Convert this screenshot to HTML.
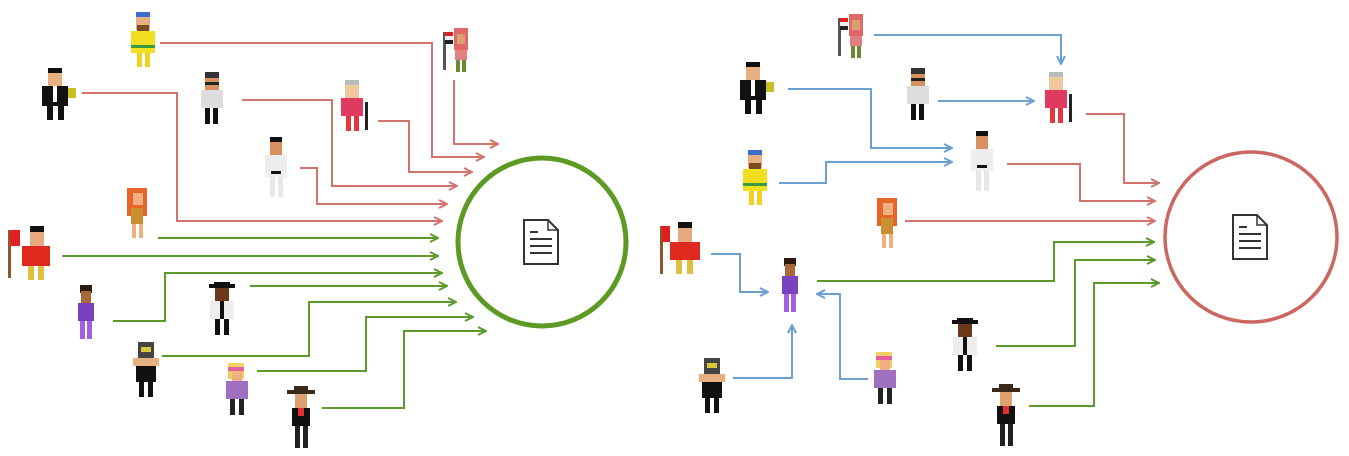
<!DOCTYPE html>
<html><head><meta charset="utf-8"><style>
html,body{margin:0;padding:0;background:#fff;width:1349px;height:456px;overflow:hidden}
svg{display:block}
</style></head><body>
<svg width="1349" height="456" viewBox="0 0 1349 456" xmlns="http://www.w3.org/2000/svg">
<defs>
<marker id="ar" viewBox="0 0 10 10" refX="9" refY="5" markerWidth="5" markerHeight="5" orient="auto"><path d="M1,1 L9,5 L1,9" fill="none" stroke="#d2746e" stroke-width="2"/></marker>
<marker id="ag" viewBox="0 0 10 10" refX="9" refY="5" markerWidth="5" markerHeight="5" orient="auto"><path d="M1,1 L9,5 L1,9" fill="none" stroke="#5c9a2e" stroke-width="2"/></marker>
<marker id="ab" viewBox="0 0 10 10" refX="9" refY="5" markerWidth="5" markerHeight="5" orient="auto"><path d="M1,1 L9,5 L1,9" fill="none" stroke="#6c9fd2" stroke-width="2"/></marker>
<g id="doc"><path d="M0,0 H24 L34,10 V44 H0 Z" fill="#fff" stroke="#333" stroke-width="2"/><path d="M24,0 V10 H34" fill="none" stroke="#333" stroke-width="1.5"/><path d="M6,12 H14 M6,19 H28 M6,26 H28 M6,33 H28" stroke="#333" stroke-width="2"/></g>
</defs>

<!-- LEFT -->
<g fill="none" stroke="#d2746e" stroke-width="2">
<polyline points="160,43 432,43 432,157 484,157" marker-end="url(#ar)"/>
<polyline points="454,80 454,144 498,144" marker-end="url(#ar)"/>
<polyline points="378,121 409,121 409,172 472,172" marker-end="url(#ar)"/>
<polyline points="242,100 332,100 332,186 457,186" marker-end="url(#ar)"/>
<polyline points="300,168 317,168 317,204 447,204" marker-end="url(#ar)"/>
<polyline points="82,93 177,93 177,221 442,221" marker-end="url(#ar)"/>
</g>
<g fill="none" stroke="#5c9a2e" stroke-width="2">
<polyline points="158,238 438,238" marker-end="url(#ag)"/>
<polyline points="62,256 438,256" marker-end="url(#ag)"/>
<polyline points="113,321 165,321 165,273 442,273" marker-end="url(#ag)"/>
<polyline points="250,286 447,286" marker-end="url(#ag)"/>
<polyline points="162,356 309,356 309,302 456,302" marker-end="url(#ag)"/>
<polyline points="257,371 366,371 366,317 473,317" marker-end="url(#ag)"/>
<polyline points="322,408 404,408 404,331 486,331" marker-end="url(#ag)"/>
</g>
<ellipse cx="542" cy="242" rx="84" ry="84" fill="none" stroke="#5c9a24" stroke-width="5"/>
<use href="#doc" x="524" y="220"/>

<!-- RIGHT -->
<g fill="none" stroke="#6c9fd2" stroke-width="2">
<polyline points="874,35 1061,35 1061,64" marker-end="url(#ab)"/>
<polyline points="938,101 1034,101" marker-end="url(#ab)"/>
<polyline points="788,89 871,89 871,148 952,148" marker-end="url(#ab)"/>
<polyline points="779,183 826,183 826,162 952,162" marker-end="url(#ab)"/>
<polyline points="711,254 740,254 740,292 768,292" marker-end="url(#ab)"/>
<polyline points="733,378 792,378 792,325" marker-end="url(#ab)"/>
<polyline points="868,379 840,379 840,294 817,294" marker-end="url(#ab)"/>
</g>
<g fill="none" stroke="#d2746e" stroke-width="2">
<polyline points="1086,114 1124,114 1124,183 1159,183" marker-end="url(#ar)"/>
<polyline points="1007,164 1080,164 1080,201 1155,201" marker-end="url(#ar)"/>
<polyline points="905,221 1155,221" marker-end="url(#ar)"/>
</g>
<g fill="none" stroke="#5c9a2e" stroke-width="2">
<polyline points="817,281 1054,281 1054,242 1154,242" marker-end="url(#ag)"/>
<polyline points="996,346 1075,346 1075,260 1155,260" marker-end="url(#ag)"/>
<polyline points="1029,406 1094,406 1094,283 1159,283" marker-end="url(#ag)"/>
</g>
<ellipse cx="1251" cy="237" rx="86" ry="85" fill="none" stroke="#cc6660" stroke-width="3.5"/>
<use href="#doc" x="1233" y="215"/>

<!-- characters: generic pixel figures -->
<g id="figs">
<!-- template: hair, head, body, arms, legs -->
<!-- yellow guy L -->
<g transform="translate(128,12)"><rect x="8" y="0" width="14" height="6" fill="#3a6fd0"/><rect x="8" y="5" width="14" height="13" fill="#e8b080"/><rect x="9" y="13" width="12" height="6" fill="#7a4a20"/><rect x="3" y="19" width="24" height="22" fill="#f2e020"/><rect x="3" y="33" width="24" height="3" fill="#3a9a40"/><rect x="9" y="41" width="5" height="14" fill="#f0d020"/><rect x="17" y="41" width="5" height="14" fill="#f0d020"/></g>
<!-- suit L -->
<g transform="translate(38,68)"><rect x="10" y="0" width="14" height="6" fill="#111"/><rect x="10" y="5" width="14" height="13" fill="#e8b080"/><rect x="4" y="18" width="26" height="20" fill="#111"/><rect x="15" y="18" width="4" height="16" fill="#fff"/><rect x="30" y="20" width="8" height="10" fill="#c8c020"/><rect x="9" y="38" width="6" height="14" fill="#111"/><rect x="20" y="38" width="6" height="14" fill="#111"/></g>
<!-- headphone L -->
<g transform="translate(196,72)"><rect x="9" y="0" width="14" height="6" fill="#333"/><rect x="9" y="6" width="14" height="12" fill="#d89060"/><rect x="9" y="10" width="14" height="3" fill="#222"/><rect x="5" y="18" width="22" height="18" fill="#ddd"/><rect x="9" y="36" width="5" height="16" fill="#111"/><rect x="17" y="36" width="5" height="16" fill="#111"/></g>
<!-- old man L -->
<g transform="translate(336,80)"><rect x="9" y="0" width="14" height="6" fill="#bbb"/><rect x="9" y="5" width="14" height="13" fill="#f0c8a0"/><rect x="5" y="18" width="22" height="18" fill="#e03a60"/><rect x="10" y="36" width="5" height="15" fill="#e03a40"/><rect x="18" y="36" width="5" height="15" fill="#e03a40"/><rect x="29" y="22" width="3" height="28" fill="#222"/></g>
<!-- egypt girl L -->
<g transform="translate(443,28)"><rect x="0" y="4" width="3" height="38" fill="#555"/><rect x="2" y="4" width="8" height="4" fill="#d22"/><rect x="2" y="8" width="8" height="4" fill="#eee"/><rect x="2" y="12" width="8" height="4" fill="#222"/><rect x="11" y="0" width="14" height="22" fill="#e06868"/><rect x="14" y="6" width="8" height="10" fill="#d8a070"/><rect x="12" y="22" width="12" height="10" fill="#e08080"/><rect x="13" y="32" width="4" height="12" fill="#6a8a30"/><rect x="19" y="32" width="4" height="12" fill="#6a8a30"/></g>
<!-- karate L -->
<g transform="translate(262,137)"><rect x="8" y="0" width="12" height="5" fill="#111"/><rect x="8" y="5" width="12" height="13" fill="#d89060"/><rect x="3" y="18" width="22" height="22" fill="#eee"/><rect x="9" y="34" width="10" height="3" fill="#111"/><rect x="8" y="40" width="5" height="20" fill="#e8e8e8"/><rect x="16" y="40" width="5" height="20" fill="#e8e8e8"/></g>
<!-- cavewoman L -->
<g transform="translate(125,188)"><rect x="2" y="0" width="20" height="28" fill="#e8652a"/><rect x="8" y="5" width="10" height="12" fill="#f0b080"/><rect x="6" y="20" width="12" height="16" fill="#c89030"/><rect x="7" y="36" width="4" height="14" fill="#f0b080"/><rect x="14" y="36" width="4" height="14" fill="#f0b080"/></g>
<!-- chinese L -->
<g transform="translate(8,226)"><rect x="0" y="4" width="3" height="48" fill="#8a5a2a"/><rect x="2" y="4" width="10" height="16" fill="#e02020"/><rect x="22" y="0" width="14" height="6" fill="#111"/><rect x="22" y="6" width="14" height="14" fill="#e8a880"/><rect x="14" y="20" width="28" height="20" fill="#e02a20"/><rect x="20" y="40" width="6" height="14" fill="#e0c040"/><rect x="30" y="40" width="6" height="14" fill="#e0c040"/></g>
<!-- purple L -->
<g transform="translate(72,285)"><rect x="8" y="0" width="12" height="8" fill="#2a1a10"/><rect x="9" y="6" width="10" height="12" fill="#a86838"/><rect x="6" y="18" width="16" height="18" fill="#7a40c0"/><rect x="8" y="36" width="5" height="18" fill="#a060e0"/><rect x="15" y="36" width="5" height="18" fill="#a060e0"/></g>
<!-- black hat L -->
<g transform="translate(205,282)"><rect x="4" y="2" width="26" height="4" fill="#111"/><rect x="9" y="0" width="16" height="4" fill="#111"/><rect x="10" y="6" width="14" height="13" fill="#6a3a1a"/><rect x="5" y="19" width="24" height="18" fill="#eee"/><rect x="15" y="19" width="4" height="18" fill="#111"/><rect x="10" y="37" width="5" height="16" fill="#111"/><rect x="19" y="37" width="5" height="16" fill="#111"/></g>
<!-- mask L -->
<g transform="translate(128,342)"><rect x="10" y="0" width="16" height="16" fill="#444"/><rect x="13" y="5" width="10" height="5" fill="#d8c840"/><rect x="5" y="16" width="26" height="8" fill="#e8b080"/><rect x="8" y="24" width="20" height="16" fill="#111"/><rect x="11" y="40" width="5" height="15" fill="#111"/><rect x="20" y="40" width="5" height="15" fill="#111"/></g>
<!-- blonde L -->
<g transform="translate(220,363)"><rect x="8" y="0" width="16" height="16" fill="#f0d060"/><rect x="8" y="4" width="16" height="4" fill="#e060a0"/><rect x="12" y="8" width="10" height="10" fill="#f0b080"/><rect x="6" y="18" width="22" height="18" fill="#a070c0"/><rect x="10" y="36" width="5" height="16" fill="#222"/><rect x="19" y="36" width="5" height="16" fill="#222"/></g>
<!-- cowboy L -->
<g transform="translate(285,386)"><rect x="2" y="4" width="28" height="4" fill="#3a2a1a"/><rect x="9" y="0" width="14" height="5" fill="#3a2a1a"/><rect x="10" y="8" width="12" height="14" fill="#e0a070"/><rect x="7" y="22" width="18" height="18" fill="#111"/><rect x="13" y="22" width="6" height="8" fill="#e03030"/><rect x="10" y="40" width="5" height="22" fill="#222"/><rect x="18" y="40" width="5" height="22" fill="#222"/></g>

<!-- RIGHT characters -->
<g transform="translate(838,14)"><rect x="0" y="4" width="3" height="38" fill="#555"/><rect x="2" y="4" width="8" height="4" fill="#d22"/><rect x="2" y="8" width="8" height="4" fill="#eee"/><rect x="2" y="12" width="8" height="4" fill="#222"/><rect x="11" y="0" width="14" height="22" fill="#e06868"/><rect x="14" y="6" width="8" height="10" fill="#d8a070"/><rect x="12" y="22" width="12" height="10" fill="#e08080"/><rect x="13" y="32" width="4" height="12" fill="#6a8a30"/><rect x="19" y="32" width="4" height="12" fill="#6a8a30"/></g>
<g transform="translate(736,62)"><rect x="10" y="0" width="14" height="6" fill="#111"/><rect x="10" y="5" width="14" height="13" fill="#e8b080"/><rect x="4" y="18" width="26" height="20" fill="#111"/><rect x="15" y="18" width="4" height="16" fill="#fff"/><rect x="30" y="20" width="8" height="10" fill="#c8c020"/><rect x="9" y="38" width="6" height="14" fill="#111"/><rect x="20" y="38" width="6" height="14" fill="#111"/></g>
<g transform="translate(902,68)"><rect x="9" y="0" width="14" height="6" fill="#333"/><rect x="9" y="6" width="14" height="12" fill="#d89060"/><rect x="9" y="10" width="14" height="3" fill="#222"/><rect x="5" y="18" width="22" height="18" fill="#ddd"/><rect x="9" y="36" width="5" height="16" fill="#111"/><rect x="17" y="36" width="5" height="16" fill="#111"/></g>
<g transform="translate(1040,72)"><rect x="9" y="0" width="14" height="6" fill="#bbb"/><rect x="9" y="5" width="14" height="13" fill="#f0c8a0"/><rect x="5" y="18" width="22" height="18" fill="#e03a60"/><rect x="10" y="36" width="5" height="15" fill="#e03a40"/><rect x="18" y="36" width="5" height="15" fill="#e03a40"/><rect x="29" y="22" width="3" height="28" fill="#222"/></g>
<g transform="translate(740,150)"><rect x="8" y="0" width="14" height="6" fill="#3a6fd0"/><rect x="8" y="5" width="14" height="13" fill="#e8b080"/><rect x="9" y="13" width="12" height="6" fill="#7a4a20"/><rect x="3" y="19" width="24" height="22" fill="#f2e020"/><rect x="3" y="33" width="24" height="3" fill="#3a9a40"/><rect x="9" y="41" width="5" height="14" fill="#f0d020"/><rect x="17" y="41" width="5" height="14" fill="#f0d020"/></g>
<g transform="translate(968,131)"><rect x="8" y="0" width="12" height="5" fill="#111"/><rect x="8" y="5" width="12" height="13" fill="#d89060"/><rect x="3" y="18" width="22" height="22" fill="#eee"/><rect x="9" y="34" width="10" height="3" fill="#111"/><rect x="8" y="40" width="5" height="20" fill="#e8e8e8"/><rect x="16" y="40" width="5" height="20" fill="#e8e8e8"/></g>
<g transform="translate(875,198)"><rect x="2" y="0" width="20" height="28" fill="#e8652a"/><rect x="8" y="5" width="10" height="12" fill="#f0b080"/><rect x="6" y="20" width="12" height="16" fill="#c89030"/><rect x="7" y="36" width="4" height="14" fill="#f0b080"/><rect x="14" y="36" width="4" height="14" fill="#f0b080"/></g>
<g transform="translate(660,222)"><rect x="0" y="4" width="3" height="48" fill="#8a5a2a"/><rect x="2" y="4" width="8" height="16" fill="#e02020"/><rect x="18" y="0" width="14" height="6" fill="#111"/><rect x="18" y="6" width="14" height="14" fill="#e8a880"/><rect x="10" y="20" width="30" height="18" fill="#e02a20"/><rect x="16" y="38" width="6" height="14" fill="#e0c040"/><rect x="27" y="38" width="6" height="14" fill="#e0c040"/></g>
<g transform="translate(776,258)"><rect x="8" y="0" width="12" height="8" fill="#2a1a10"/><rect x="9" y="6" width="10" height="12" fill="#a86838"/><rect x="6" y="18" width="16" height="18" fill="#7a40c0"/><rect x="8" y="36" width="5" height="18" fill="#a060e0"/><rect x="15" y="36" width="5" height="18" fill="#a060e0"/></g>
<g transform="translate(948,318)"><rect x="4" y="2" width="26" height="4" fill="#111"/><rect x="9" y="0" width="16" height="4" fill="#111"/><rect x="10" y="6" width="14" height="13" fill="#6a3a1a"/><rect x="5" y="19" width="24" height="18" fill="#eee"/><rect x="15" y="19" width="4" height="18" fill="#111"/><rect x="10" y="37" width="5" height="16" fill="#111"/><rect x="19" y="37" width="5" height="16" fill="#111"/></g>
<g transform="translate(694,358)"><rect x="10" y="0" width="16" height="16" fill="#444"/><rect x="13" y="5" width="10" height="5" fill="#d8c840"/><rect x="5" y="16" width="26" height="8" fill="#e8b080"/><rect x="8" y="24" width="20" height="16" fill="#111"/><rect x="11" y="40" width="5" height="15" fill="#111"/><rect x="20" y="40" width="5" height="15" fill="#111"/></g>
<g transform="translate(868,352)"><rect x="8" y="0" width="16" height="16" fill="#f0d060"/><rect x="8" y="4" width="16" height="4" fill="#e060a0"/><rect x="12" y="8" width="10" height="10" fill="#f0b080"/><rect x="6" y="18" width="22" height="18" fill="#a070c0"/><rect x="10" y="36" width="5" height="16" fill="#222"/><rect x="19" y="36" width="5" height="16" fill="#222"/></g>
<g transform="translate(990,384)"><rect x="2" y="4" width="28" height="4" fill="#3a2a1a"/><rect x="9" y="0" width="14" height="5" fill="#3a2a1a"/><rect x="10" y="8" width="12" height="14" fill="#e0a070"/><rect x="7" y="22" width="18" height="18" fill="#111"/><rect x="13" y="22" width="6" height="8" fill="#e03030"/><rect x="10" y="40" width="5" height="22" fill="#222"/><rect x="18" y="40" width="5" height="22" fill="#222"/></g>
</g>
</svg>
</body></html>
